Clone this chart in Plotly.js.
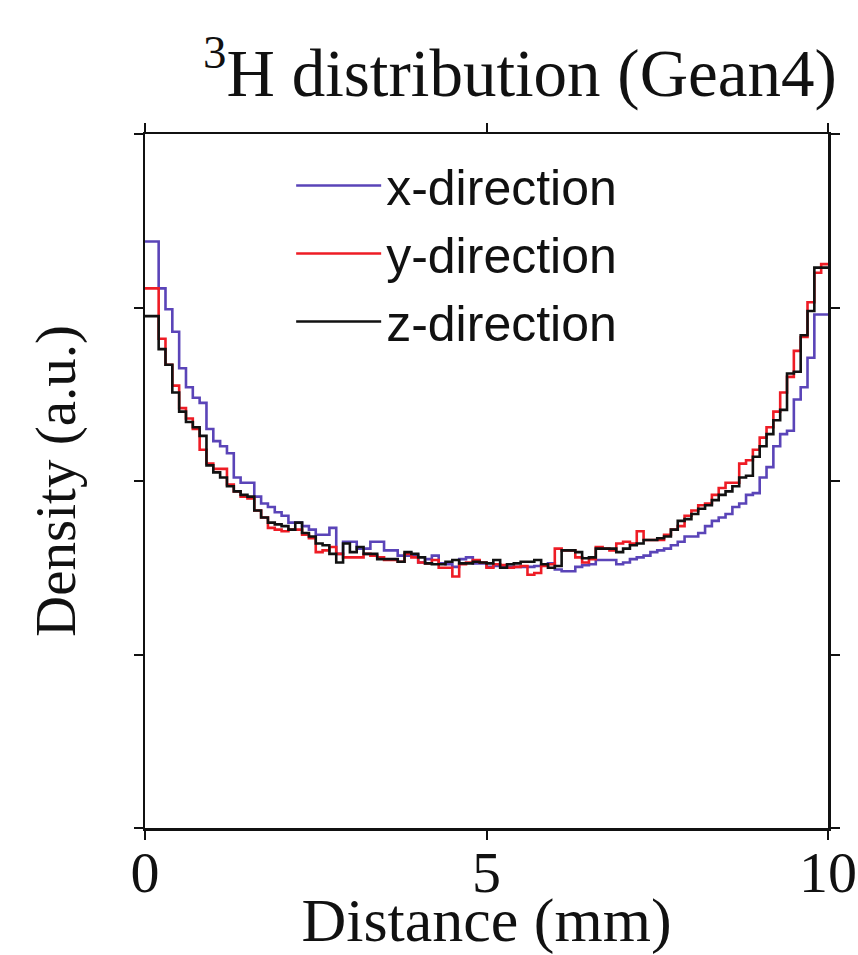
<!DOCTYPE html>
<html>
<head>
<meta charset="utf-8">
<script src="https://cdn.plot.ly/plotly-3.0.1.min.js"></script>
<style>
  html, body { margin: 0; padding: 0; background: #ffffff; }
  #chart { width: 858px; height: 955px; }
</style>
</head>
<body>
<div id="chart"></div>
<script>
// Histogram: 100 bins of 0.1 mm from 0 to 10 mm (density, arbitrary units)
const binStart = 0;
const binWidth = 0.1;

const xDirection = [
  3.38, 3.38, 3.11, 2.99, 2.86, 2.65, 2.54, 2.48, 2.45, 2.30,
  2.23, 2.20, 2.16, 2.02, 1.99, 1.99, 1.91, 1.87, 1.85, 1.82,
  1.80, 1.76, 1.76, 1.74, 1.72, 1.69, 1.69, 1.73, 1.58, 1.65,
  1.65, 1.61, 1.61, 1.65, 1.65, 1.60, 1.60, 1.57, 1.57, 1.575,
  1.53, 1.55, 1.57, 1.525, 1.52, 1.505, 1.55, 1.56, 1.525, 1.525,
  1.505, 1.51, 1.51, 1.505, 1.505, 1.505, 1.505, 1.51, 1.515, 1.525,
  1.49, 1.48, 1.48, 1.505, 1.515, 1.52, 1.545, 1.545, 1.545, 1.52,
  1.53, 1.55, 1.56, 1.57, 1.59, 1.60, 1.61, 1.63, 1.65, 1.68,
  1.68, 1.70, 1.74, 1.77, 1.79, 1.81, 1.85, 1.87, 1.92, 1.93,
  2.02, 2.08, 2.20, 2.27, 2.29, 2.47, 2.54, 2.71, 2.96, 2.96
];

const yDirection = [
  3.11, 3.11, 2.82, 2.67, 2.55, 2.42, 2.36, 2.30, 2.18, 2.10,
  2.07, 2.07, 1.98, 1.94, 1.91, 1.90, 1.83, 1.79, 1.73, 1.72,
  1.71, 1.72, 1.72, 1.69, 1.67, 1.59, 1.60, 1.62, 1.58, 1.56,
  1.56, 1.56, 1.58, 1.57, 1.56, 1.545, 1.545, 1.535, 1.58, 1.56,
  1.53, 1.525, 1.545, 1.50, 1.50, 1.45, 1.52, 1.53, 1.545, 1.53,
  1.50, 1.52, 1.515, 1.50, 1.505, 1.51, 1.46, 1.47, 1.51, 1.52,
  1.61, 1.60, 1.60, 1.56, 1.53, 1.55, 1.62, 1.61, 1.60, 1.64,
  1.65, 1.64, 1.71, 1.66, 1.66, 1.66, 1.69, 1.72, 1.74, 1.80,
  1.83, 1.86, 1.87, 1.92, 1.96, 1.99, 1.99, 2.10, 2.12, 2.18,
  2.25, 2.31, 2.40, 2.51, 2.60, 2.75, 2.83, 3.03, 3.20, 3.25
];

const zDirection = [
  2.95, 2.95, 2.76, 2.67, 2.51, 2.40, 2.34, 2.31, 2.26, 2.09,
  2.05, 2.02, 1.97, 1.94, 1.92, 1.91, 1.83, 1.79, 1.76, 1.75,
  1.74, 1.72, 1.76, 1.70, 1.68, 1.64, 1.63, 1.58, 1.53, 1.64,
  1.59, 1.62, 1.58, 1.58, 1.55, 1.55, 1.55, 1.535, 1.59, 1.58,
  1.56, 1.525, 1.52, 1.52, 1.535, 1.545, 1.525, 1.525, 1.535, 1.53,
  1.525, 1.545, 1.50, 1.52, 1.525, 1.535, 1.535, 1.545, 1.52, 1.50,
  1.51, 1.60, 1.60, 1.59, 1.555, 1.56, 1.61, 1.61, 1.61, 1.59,
  1.61, 1.63, 1.64, 1.66, 1.66, 1.67, 1.68, 1.72, 1.77, 1.78,
  1.81, 1.84, 1.86, 1.89, 1.92, 1.94, 1.97, 2.02, 2.03, 2.14,
  2.20, 2.27, 2.35, 2.41, 2.62, 2.63, 2.84, 2.98, 3.23, 3.23
];

const seriesNames = ['x-direction', 'y-direction', 'z-direction'];
const seriesColors = ['#5a44b8', '#ee1c25', '#111111'];
const xTickVals = [0, 5, 10];
const xTickText = ['0', '5', '10'];
const yTickVals = [0, 1, 2, 3, 4];

function stepTrace(values, name, color) {
  // bin edges; repeat the last value so the final bin is closed at x = 10
  const xs = values.map((_, i) => binStart + i * binWidth);
  xs.push(binStart + values.length * binWidth);
  const ys = values.slice();
  ys.push(values[values.length - 1]);
  return {
    type: 'scatter',
    mode: 'lines',
    name: name,
    x: xs,
    y: ys,
    line: { color: color, width: 2.6, shape: 'hv' },
    hoverinfo: 'skip'
  };
}

const data = [
  stepTrace(xDirection, seriesNames[0], seriesColors[0]),
  stepTrace(yDirection, seriesNames[1], seriesColors[1]),
  stepTrace(zDirection, seriesNames[2], seriesColors[2])
];

const serif = '"Liberation Serif", "Times New Roman", Times, serif';
const sans = '"Liberation Sans", Arial, Helvetica, sans-serif';

const layout = {
  width: 858,
  height: 955,
  margin: { l: 145, r: 30, t: 134, b: 127, pad: 0 },
  paper_bgcolor: '#ffffff',
  plot_bgcolor: '#ffffff',
  showlegend: true,
  title: {
    text: '<sup>3</sup>H distribution (Gean4)',
    font: { family: serif, size: 67, color: '#111111' },
    xref: 'paper', x: 0.549, xanchor: 'center',
    yref: 'paper', y: 1, yanchor: 'bottom',
    pad: { b: 38 }
  },
  xaxis: {
    range: [0, 10],
    tickmode: 'array',
    tickvals: xTickVals,
    ticktext: xTickText,
    ticks: 'outside',
    ticklen: 9,
    tickwidth: 2,
    tickcolor: '#111111',
    ticklabelstandoff: -17,
    showline: true,
    linecolor: '#111111',
    linewidth: 2.5,
    mirror: 'allticks',
    showgrid: false,
    zeroline: false,
    tickfont: { family: serif, size: 58, color: '#111111' },
    title: {
      text: 'Distance (mm)',
      font: { family: serif, size: 62, color: '#111111' },
      standoff: 9
    },
    automargin: false
  },
  yaxis: {
    range: [0, 4],
    tickmode: 'array',
    tickvals: yTickVals,
    showticklabels: false,
    ticks: 'outside',
    ticklen: 9,
    tickwidth: 2,
    tickcolor: '#111111',
    showline: true,
    linecolor: '#111111',
    linewidth: 2.5,
    mirror: 'allticks',
    showgrid: false,
    zeroline: false,
    title: {
      text: 'Density (a.u.)',
      font: { family: serif, size: 57, color: '#111111' },
      standoff: 40
    },
    automargin: false
  },
  legend: {
    x: 0.214, xanchor: 'left',
    y: 0.982, yanchor: 'top',
    bgcolor: 'rgba(255,255,255,0)',
    borderwidth: 0,
    font: { family: sans, size: 50, color: '#111111' },
    itemwidth: 85,
    tracegroupgap: 0
  }
};

Plotly.newPlot('chart', data, layout, { staticPlot: true, displayModeBar: false });
</script>
</body>
</html>
